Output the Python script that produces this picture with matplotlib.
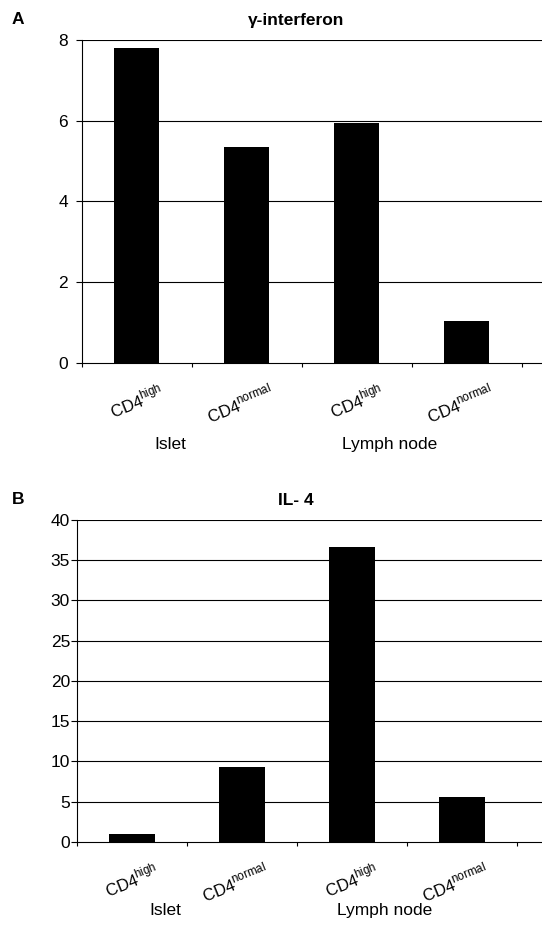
import matplotlib
matplotlib.use("Agg")
import matplotlib.pyplot as plt
import numpy as np

plt.rcParams["font.family"] = ["Liberation Sans", "DejaVu Sans"]
plt.rcParams["mathtext.fontset"] = "custom"
plt.rcParams["mathtext.rm"] = "Liberation Sans"

categories = ["CD4$^{\\mathrm{high}}$", "CD4$^{\\mathrm{normal}}$",
              "CD4$^{\\mathrm{high}}$", "CD4$^{\\mathrm{normal}}$"]
groups = ["Islet", "Lymph node"]
ifn_values = [7.8, 5.35, 5.95, 1.05]
il4_values = [1.0, 9.3, 36.7, 5.6]

ifn_ticks = [0, 2, 4, 6, 8]
il4_ticks = [0, 5, 10, 15, 20, 25, 30, 35, 40]

fig = plt.figure(figsize=(5.42, 9.27), dpi=100)


def draw_panel(rect, values, yticks, title, letter, group_off, ypad):
    ax = fig.add_axes(rect)
    x = np.arange(len(values))
    ax.bar(x, values, width=0.41, color="black", zorder=3)
    ax.set_xlim(-0.5, -0.5 + rect[2] * 542 / 110)
    ax.set_ylim(yticks[0], yticks[-1])
    ax.set_yticks(yticks)
    for t in yticks[1:]:
        ax.axhline(t, color="black", lw=0.8, zorder=1)
    ax.spines["top"].set_visible(False)
    ax.spines["right"].set_visible(False)
    ax.spines["left"].set_linewidth(0.8)
    ax.spines["bottom"].set_linewidth(0.8)
    ax.tick_params(axis="y", length=4, width=0.8, labelsize=12.5, pad=ypad)
    ax.set_xticks(x)
    ax.set_xticklabels([])
    ax.set_xticks(np.arange(len(values) + 1) - 0.5, minor=True)
    ax.tick_params(axis="x", which="major", length=0)
    ax.tick_params(axis="x", which="minor", length=3, width=0.8)
    for xi, lab in zip(x, categories):
        ax.annotate(lab, (xi + 0.2, 0), xycoords=("data", "axes fraction"),
                    xytext=(0, -13), textcoords="offset points",
                    rotation=22, ha="right", va="top", rotation_mode="anchor",
                    fontsize=12)
    for gi, g in enumerate(groups):
        ax.annotate(g, (gi * 2 + 0.3, 0), xycoords=("data", "axes fraction"),
                    xytext=(0, -group_off), textcoords="offset points",
                    ha="center", va="top", fontsize=12.5)
    ax.set_title(title, fontsize=12.5, weight="bold", pad=11,
                 x=(296 - rect[0] * 542) / (rect[2] * 542))
    fig.text(0.022, rect[1] + rect[3] + 0.022, letter, fontsize=12.5,
             weight="bold", va="center")
    return ax


draw_panel([0.151, 0.6084, 0.849, 0.3485], ifn_values, ifn_ticks,
           "\u03b3-interferon", "A", 53, 6)
draw_panel([0.142, 0.0917, 0.858, 0.3474], il4_values, il4_ticks,
           "IL- 4", "B", 44, 1)

fig.savefig("out.png", dpi=100)
